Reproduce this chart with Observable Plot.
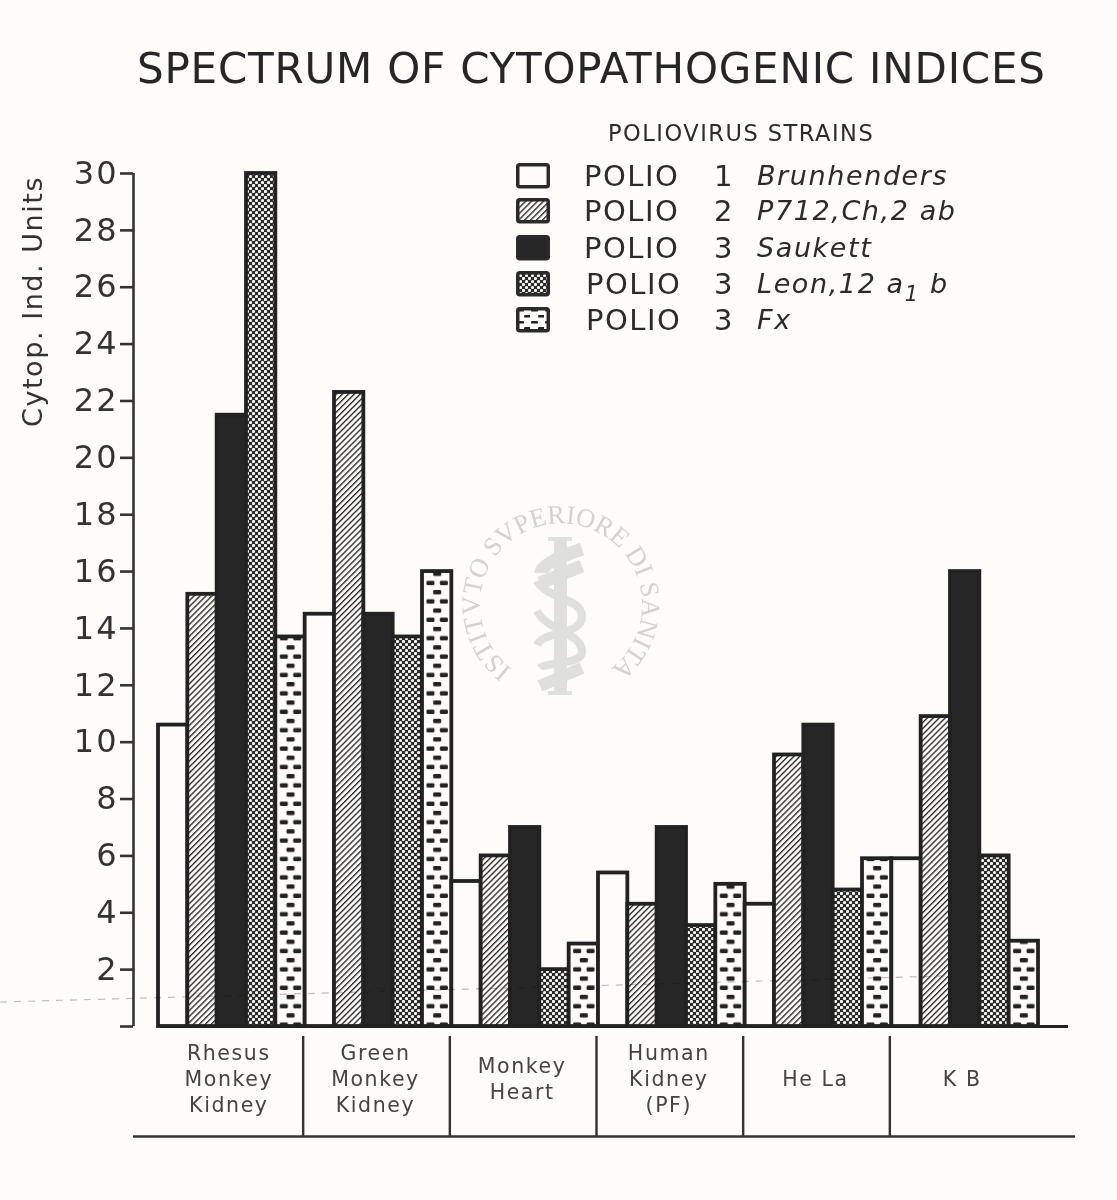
<!DOCTYPE html>
<html><head><meta charset="utf-8">
<script src="https://cdn.jsdelivr.net/npm/d3@7"></script>
<script src="https://cdn.jsdelivr.net/npm/@observablehq/plot@0.6"></script>
<style>
html,body{margin:0;padding:0;background:#fdfcf8;}
body{position:relative;width:1117px;height:1200px;overflow:hidden;font-family:"DejaVu Sans",sans-serif;color:#2b2b2b;}
#title{position:absolute;left:137px;top:44px;font-size:42px;line-height:50px;white-space:nowrap;letter-spacing:0.8px;margin:0;font-weight:400;color:#262626;}
#legend{position:absolute;left:0;top:0;width:1117px;height:340px;z-index:2;}
#legendHead{position:absolute;left:608px;top:120px;font-size:22.5px;line-height:26px;letter-spacing:1.5px;white-space:nowrap;}
.row{position:absolute;left:0;height:36px;width:1117px;font-size:29px;line-height:36px;}
.row span{position:absolute;top:0;white-space:nowrap;}
.row svg{position:absolute;left:516px;top:5px;}
.row .st{font-style:italic;left:757px;font-size:27px;letter-spacing:1.6px;}
.row .st sub{font-size:21px;line-height:0;vertical-align:-8px;}
#chart{position:absolute;left:0;top:100px;z-index:1;}
#chart svg{background:transparent;display:block;}
#mark{position:absolute;left:0;top:0;z-index:0;}
#crease{position:absolute;left:0;top:0;z-index:3;mix-blend-mode:multiply;pointer-events:none;}
g[aria-label="y-axis tick label"] text{letter-spacing:2px;}
g[font-size="27"] text{letter-spacing:1.55px;}
g[font-size="20.5"] text{letter-spacing:1.6px;}
</style></head><body>
<svg width="0" height="0" style="position:absolute">
<defs>
<pattern id="pHatch" patternUnits="userSpaceOnUse" width="4.2" height="4.2" patternTransform="rotate(45)">
<rect width="4.2" height="4.2" fill="#fdfcf8"/><rect x="0" width="1.35" height="4.2" fill="#2a2a2a"/></pattern>
<pattern id="pCross" patternUnits="userSpaceOnUse" width="6" height="6">
<rect width="6" height="6" fill="#2a2a2a"/><circle cx="1.5" cy="1.5" r="1.6" fill="#fdfcf8"/><circle cx="4.5" cy="4.5" r="1.6" fill="#fdfcf8"/></pattern>
<pattern id="pDash" patternUnits="userSpaceOnUse" x="158.5" y="0" width="29.333" height="18.4">
<rect width="29.333" height="18.4" fill="#fdfcf8"/>
<rect x="4" y="2.4" width="8" height="4.4" rx="1.3" fill="#222"/><rect x="17.4" y="2.4" width="8" height="4.4" rx="1.3" fill="#222"/>
<rect x="10.7" y="11.6" width="8" height="4.4" rx="1.3" fill="#222"/></pattern>
<pattern id="pDashKey" patternUnits="userSpaceOnUse" width="14" height="12">
<rect width="14" height="12" fill="#fdfcf8"/>
<rect x="1" y="2" width="7" height="2.6" rx="1.2" fill="#222"/><rect x="8" y="8" width="7" height="2.6" rx="1.2" fill="#222"/></pattern>
</defs></svg>

<svg id="mark" width="1117" height="1200">
<defs><path id="ring" d="M 512 669 A 81 81 0 1 1 610 669"/></defs>
<g fill="#dfdfdc">
<rect x="554" y="537" width="13" height="158"/><rect x="548" y="537" width="24" height="4"/><rect x="548" y="691" width="24" height="4"/>
<g fill="none" stroke="#dfdfdc">
<path d="M 541 573 Q 541 563 582 549" stroke-width="13"/>
<path d="M 582 566 L 540 583" stroke-width="13"/>
<path d="M 537 581 C 548 600 582 598 582 616 C 582 636 544 630 537 645" stroke-width="8"/>
<path d="M 537 611 C 548 632 582 632 582 652 C 582 665 545 662 540 668" stroke-width="8"/>
<path d="M 582 668 L 540 686" stroke-width="12"/>
</g></g>
<text font-family="Liberation Serif" font-size="26.5" fill="#d2d2cf"><textPath href="#ring" textLength="402" lengthAdjust="spacing">ISTITVTO SVPERIORE DI SANITA</textPath></text>
</svg>

<h1 id="title">SPECTRUM OF CYTOPATHOGENIC INDICES</h1>
<div id="chart"></div>
<div id="legend"></div>
<svg id="crease" width="1117" height="1200"><line x1="0" y1="1002" x2="945" y2="976" stroke="#c2c1bc" stroke-width="1.2" stroke-dasharray="7 7"/></svg>
<script>
const cellTypes = ["Rhesus Monkey Kidney","Green Monkey Kidney","Monkey Heart","Human Kidney (PF)","He La","K B"];
const cellLabels = ["Rhesus\nMonkey\nKidney","Green\nMonkey\nKidney","Monkey\nHeart","Human\nKidney\n(PF)","He La","K B"];
const strains = ["Polio 1 Brunhenders","Polio 2 P712,Ch,2ab","Polio 3 Saukett","Polio 3 Leon,12a1b","Polio 3 Fx"];
const polio1Brunhenders = [10.6,14.5,5.1,5.4,4.3,5.9];
const polio2P712 = [15.2,22.3,6.0,4.3,9.55,10.9];
const polio3Saukett = [21.5,14.5,7.0,7.0,10.6,16.0];
const polio3Leon = [30.0,13.7,2.0,3.55,4.8,6.0];
const polio3Fx = [13.7,16.0,2.9,5.0,5.9,3.0];
const yTicks = [2,4,6,8,10,12,14,16,18,20,22,24,26,28,30];
const legendHeading = "POLIOVIRUS STRAINS";
const legendNames = ["POLIO","POLIO","POLIO","POLIO","POLIO"];
const legendTypes = ["1","2","3","3","3"];
const legendStrains = ["Brunhenders","P712,Ch,2 ab","Saukett","Leon,12 a<sub>1</sub> b","Fx"];
const fills = ["#fdfcf8","url(#pHatch)","#262626","url(#pCross)","url(#pDash)"];
const keyFills = ["#fdfcf8","url(#pHatch)","#262626","url(#pCross)","url(#pDashKey)"];

const series = [polio1Brunhenders,polio2P712,polio3Saukett,polio3Leon,polio3Fx];
const rows = cellTypes.flatMap((c,i)=>strains.map((s,j)=>({cell:c,strain:s,value:series[j][i],key:i+"-"+j})));
const keys = rows.map(d=>d.key);
const bw = 880/30;
const groupRules = cellTypes.slice(1).map((c,i)=>(i+1)+"-0");
const labelRows = cellTypes.map((c,i)=>({key:i+"-2",label:cellLabels[i]}));

const plot = Plot.plot({
  width:1117,height:1100,
  marginTop:73,marginBottom:174,marginLeft:133,marginRight:42,
  style:{background:"transparent",color:"#2b2b2b",fontFamily:"DejaVu Sans"},
  x:{type:"band",domain:keys,range:[158,1038],padding:0,axis:null,round:false},
  y:{domain:[0,30],axis:null},
  color:{type:"ordinal",domain:strains,range:fills},
  marks:[
    Plot.barY(rows,{x:"key",y:"value",fill:"strain",stroke:"#222",strokeWidth:3.8}),
    Plot.ruleY([0],{stroke:"#222",strokeWidth:3,insetLeft:27,insetRight:7}),
    Plot.axisY({ticks:yTicks.concat([0]),tickFormat:d=>d===0?"":d,tickSize:13,tickPadding:2,fontSize:32,stroke:"#333",strokeWidth:2.6,label:null,anchor:"left",color:"#333"}),
    Plot.ruleX([keys[0]],{y1:0,y2:30,dx:-(25+bw/2),stroke:"#333",strokeWidth:2.6}),
    Plot.text(["Cytop. Ind. Units"],{x:()=>keys[0],y:()=>25.5,dx:-(125+bw/2),rotate:-90,fontSize:27,fill:"#333",text:d=>d}),
    Plot.ruleX(groupRules,{y1:-0.35,y2:-3.87,dx:-bw/2-2,stroke:"#333",strokeWidth:2.4}),
    Plot.ruleY([-3.87],{stroke:"#333",strokeWidth:2.4}),
    Plot.text(labelRows,{x:"key",y:()=>-1.8,dx:-3,text:"label",fontSize:20.5,lineHeight:1.27,fill:"#444"})
  ]
});
document.getElementById("chart").appendChild(plot);

const legend = document.getElementById("legend");
legend.innerHTML = `<div id="legendHead">${legendHeading}</div>`;
const rowTops = [158,193,230,266,302];
strains.forEach((s,i)=>{
  const r = document.createElement("div");
  r.className="row"; r.style.top=rowTops[i]+"px";
  const nameLeft = i>=3?586:584;
  r.innerHTML = `<svg width="34" height="27"><rect x="1.75" y="1.75" width="30.5" height="22" rx="2" fill="${keyFills[i]}" stroke="#2a2a2a" stroke-width="3.5"/></svg>
  <span style="left:${nameLeft}px;letter-spacing:1.5px">${legendNames[i]}</span>
  <span style="left:714px">${legendTypes[i]}</span>
  <span class="st">${legendStrains[i]}</span>`;
  legend.appendChild(r);
});
</script>
</body></html>
